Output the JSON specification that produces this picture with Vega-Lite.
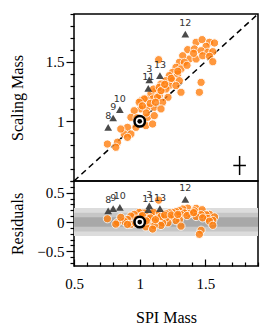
{
  "$schema": "https://vega.github.io/schema/vega-lite/v6.json",
  "padding": {"left": 8, "top": 10, "right": 15, "bottom": 5},
  "bounds": "flush",
  "config": {
    "view": {"stroke": "black", "strokeWidth": 1.5},
    "concat": {"spacing": 0},
    "axis": {
      "labelFont": "Liberation Serif", "titleFont": "Liberation Serif",
      "labelFontSize": 15, "titleFontSize": 16, "titleFontWeight": "normal",
      "labelColor": "black", "titleColor": "black", "tickColor": "black",
      "domain": false, "grid": false, "tickWidth": 1.2, "labelFlush": false
    }
  },
  "datasets": {
    "stars": [
      {"spi": 1.144, "scal": 1.517, "res": 0.373},
      {"spi": 1.429, "scal": 1.663, "res": 0.234},
      {"spi": 1.475, "scal": 1.685, "res": 0.21},
      {"spi": 1.531, "scal": 1.663, "res": 0.132},
      {"spi": 1.569, "scal": 1.657, "res": 0.088},
      {"spi": 1.505, "scal": 1.629, "res": 0.124},
      {"spi": 1.365, "scal": 1.601, "res": 0.236},
      {"spi": 1.416, "scal": 1.607, "res": 0.191},
      {"spi": 1.467, "scal": 1.592, "res": 0.125},
      {"spi": 1.518, "scal": 1.579, "res": 0.061},
      {"spi": 1.556, "scal": 1.584, "res": 0.028},
      {"spi": 1.378, "scal": 1.523, "res": 0.145},
      {"spi": 1.429, "scal": 1.523, "res": 0.094},
      {"spi": 1.479, "scal": 1.55, "res": 0.071},
      {"spi": 1.531, "scal": 1.545, "res": 0.014},
      {"spi": 1.556, "scal": 1.5, "res": -0.056},
      {"spi": 1.327, "scal": 1.55, "res": 0.223},
      {"spi": 1.302, "scal": 1.495, "res": 0.193},
      {"spi": 1.34, "scal": 1.495, "res": 0.155},
      {"spi": 1.276, "scal": 1.453, "res": 0.177},
      {"spi": 1.314, "scal": 1.439, "res": 0.125},
      {"spi": 1.25, "scal": 1.411, "res": 0.161},
      {"spi": 1.289, "scal": 1.397, "res": 0.108},
      {"spi": 1.225, "scal": 1.383, "res": 0.158},
      {"spi": 1.2, "scal": 1.341, "res": 0.141},
      {"spi": 1.25, "scal": 1.341, "res": 0.091},
      {"spi": 1.302, "scal": 1.341, "res": 0.039},
      {"spi": 1.225, "scal": 1.299, "res": 0.074},
      {"spi": 1.276, "scal": 1.299, "res": 0.023},
      {"spi": 1.314, "scal": 1.244, "res": -0.07},
      {"spi": 1.162, "scal": 1.313, "res": 0.151},
      {"spi": 1.174, "scal": 1.271, "res": 0.097},
      {"spi": 1.124, "scal": 1.257, "res": 0.133},
      {"spi": 1.149, "scal": 1.215, "res": 0.066},
      {"spi": 1.085, "scal": 1.229, "res": 0.144},
      {"spi": 1.098, "scal": 1.188, "res": 0.09},
      {"spi": 1.047, "scal": 1.188, "res": 0.141},
      {"spi": 1.009, "scal": 1.173, "res": 0.164},
      {"spi": 1.467, "scal": 1.327, "res": -0.14},
      {"spi": 1.454, "scal": 1.244, "res": -0.21},
      {"spi": 1.215, "scal": 1.202, "res": -0.013},
      {"spi": 1.105, "scal": 1.271, "res": 0.166},
      {"spi": 1.149, "scal": 1.286, "res": 0.137},
      {"spi": 1.2, "scal": 1.271, "res": 0.071},
      {"spi": 1.034, "scal": 1.188, "res": 0.154},
      {"spi": 1.136, "scal": 1.202, "res": 0.066},
      {"spi": 1.174, "scal": 1.16, "res": -0.014},
      {"spi": 0.996, "scal": 1.16, "res": 0.164},
      {"spi": 1.009, "scal": 1.104, "res": 0.095},
      {"spi": 1.06, "scal": 1.118, "res": 0.058},
      {"spi": 1.111, "scal": 1.118, "res": 0.007},
      {"spi": 1.162, "scal": 1.104, "res": -0.058},
      {"spi": 0.958, "scal": 1.089, "res": 0.131},
      {"spi": 0.933, "scal": 1.034, "res": 0.101},
      {"spi": 1.06, "scal": 1.034, "res": -0.026},
      {"spi": 1.111, "scal": 1.048, "res": -0.063},
      {"spi": 1.047, "scal": 0.964, "res": -0.083},
      {"spi": 1.098, "scal": 0.978, "res": -0.12},
      {"spi": 0.907, "scal": 0.95, "res": 0.043},
      {"spi": 0.882, "scal": 0.894, "res": 0.012},
      {"spi": 0.933, "scal": 0.894, "res": -0.039},
      {"spi": 0.971, "scal": 0.95, "res": -0.021},
      {"spi": 0.907, "scal": 0.866, "res": -0.041},
      {"spi": 0.831, "scal": 0.825, "res": -0.006},
      {"spi": 0.754, "scal": 0.81, "res": 0.056},
      {"spi": 0.818, "scal": 0.783, "res": -0.035},
      {"spi": 1.162, "scal": 1.257, "res": 0.095},
      {"spi": 0.856, "scal": 0.936, "res": 0.08},
      {"spi": 1.19, "scal": 1.31, "res": 0.12},
      {"spi": 1.24, "scal": 1.36, "res": 0.12},
      {"spi": 1.29, "scal": 1.42, "res": 0.13},
      {"spi": 1.36, "scal": 1.47, "res": 0.11},
      {"spi": 1.41, "scal": 1.57, "res": 0.16},
      {"spi": 1.02, "scal": 1.13, "res": 0.11},
      {"spi": 1.08, "scal": 1.15, "res": 0.07},
      {"spi": 0.98, "scal": 1.03, "res": 0.05},
      {"spi": 1.12, "scal": 1.16, "res": 0.04},
      {"spi": 1.05, "scal": 1.07, "res": 0.02}
    ],
    "outliers": [
      {"id": "8", "spi": 0.76, "scal": 0.95, "res": 0.19},
      {"id": "9", "spi": 0.798, "scal": 1.028, "res": 0.23},
      {"id": "10", "spi": 0.849, "scal": 1.098, "res": 0.249},
      {"id": "11", "spi": 1.065, "scal": 1.277, "res": 0.212},
      {"id": "3", "spi": 1.073, "scal": 1.347, "res": 0.274},
      {"id": "13", "spi": 1.154, "scal": 1.383, "res": 0.229},
      {"id": "12", "spi": 1.347, "scal": 1.732, "res": 0.385}
    ],
    "sun": [{"spi": 1.0, "scal": 1.0, "res": 0}],
    "diag": [{"spi": 0.5, "scal": 0.5}, {"spi": 1.9, "scal": 1.9}],
    "err": [
      {"spi": 1.712, "spi2": 1.808, "scal": 0.63, "scal2": 0.63},
      {"spi": 1.76, "spi2": 1.76, "scal": 0.55, "scal2": 0.71}
    ],
    "bands": [
      {"spi": 0.5, "spi2": 1.9, "res": -0.24, "res2": 0.24, "band": "3"},
      {"spi": 0.5, "spi2": 1.9, "res": -0.16, "res2": 0.16, "band": "2"},
      {"spi": 0.5, "spi2": 1.9, "res": -0.08, "res2": 0.08, "band": "1"}
    ]
  },
  "vconcat": [
    {
      "width": 184,
      "height": 167,
      "encoding": {
        "x": {"field": "spi", "type": "quantitative", "scale": {"domain": [0.5, 1.9], "nice": false, "zero": false}, "axis": null},
        "y": {
          "field": "scal", "type": "quantitative",
          "scale": {"domain": [0.5, 1.9], "nice": false, "zero": false},
          "axis": {
            "title": "Scaling Mass",
            "values": [0.5, 0.6, 0.7, 0.8, 0.9, 1, 1.1, 1.2, 1.3, 1.4, 1.5, 1.6, 1.7, 1.8, 1.9],
            "format": "~g",
            "labelExpr": "datum.value == 1 || datum.value == 1.5 ? datum.label : ''",
            "tickSize": {"condition": {"test": "datum.value == 1 || datum.value == 1.5", "value": 8}, "value": 4},
            "labelPadding": 2,
            "titleX": -57,
            "titleBaseline": "middle"
          }
        }
      },
      "layer": [
        {"data": {"name": "diag"}, "mark": {"type": "line", "color": "black", "strokeWidth": 1.5, "strokeDash": [6, 4]}},
        {"data": {"name": "stars"}, "mark": {"type": "circle", "size": 68, "color": "#ff7f0e", "opacity": 0.8, "stroke": "white", "strokeWidth": 1}},
        {"data": {"name": "outliers"}, "mark": {"type": "point", "shape": "triangle-up", "filled": true, "size": 60, "color": "#404040", "opacity": 0.95}},
        {"data": {"name": "outliers"}, "mark": {"type": "text", "dy": -11, "font": "DejaVu Sans", "fontSize": 9.5, "color": "#333333"}, "encoding": {"text": {"field": "id"}}},
        {"data": {"name": "sun"}, "mark": {"type": "circle", "size": 110, "fill": "white", "stroke": "black", "strokeWidth": 2.5, "opacity": 1}},
        {"data": {"name": "sun"}, "mark": {"type": "circle", "size": 22, "color": "black", "opacity": 1}},
        {"data": {"name": "err"}, "mark": {"type": "rule", "color": "black", "strokeWidth": 1.5}, "encoding": {"x2": {"field": "spi2"}, "y2": {"field": "scal2"}}}
      ]
    },
    {
      "width": 184,
      "height": 85,
      "encoding": {
        "x": {
          "field": "spi", "type": "quantitative",
          "scale": {"domain": [0.5, 1.9], "nice": false, "zero": false},
          "axis": {
            "title": "SPI Mass",
            "values": [0.5, 0.6, 0.7, 0.8, 0.9, 1, 1.1, 1.2, 1.3, 1.4, 1.5, 1.6, 1.7, 1.8, 1.9],
            "format": "~g",
            "labelExpr": "datum.value == 0.5 || datum.value == 1 || datum.value == 1.5 ? datum.label : ''",
            "tickSize": {"condition": {"test": "datum.value == 0.5 || datum.value == 1 || datum.value == 1.5", "value": -7}, "value": -4},
            "labelPadding": 17,
            "titlePadding": 18
          }
        },
        "y": {
          "field": "res", "type": "quantitative",
          "scale": {"domain": [-0.75, 0.7], "nice": false, "zero": false},
          "axis": {
            "title": "Residuals",
            "values": [-0.7, -0.6, -0.5, -0.4, -0.3, -0.2, -0.1, 0, 0.1, 0.2, 0.3, 0.4, 0.5, 0.6, 0.7],
            "format": "~g",
            "labelExpr": "datum.value == -0.5 || datum.value == 0 || datum.value == 0.5 ? datum.label : ''",
            "tickSize": {"condition": {"test": "datum.value == -0.5 || datum.value == 0 || datum.value == 0.5", "value": 8}, "value": 4},
            "labelPadding": 2,
            "titleX": -57,
            "titleBaseline": "middle"
          }
        }
      },
      "layer": [
        {"data": {"name": "bands"}, "mark": {"type": "rect"}, "encoding": {"x2": {"field": "spi2"}, "y2": {"field": "res2"}, "color": {"field": "band", "type": "nominal", "scale": {"domain": ["3", "2", "1"], "range": ["#dcdcdc", "#c6c6c6", "#a8a8a8"]}, "legend": null}}},
        {"data": {"name": "diag"}, "mark": {"type": "rule", "color": "black", "strokeWidth": 1.5, "strokeDash": [6, 4]}, "encoding": {"x": null, "y": {"datum": 0}}},
        {"data": {"name": "stars"}, "mark": {"type": "circle", "size": 68, "color": "#ff7f0e", "opacity": 0.8, "stroke": "white", "strokeWidth": 1}},
        {"data": {"name": "outliers"}, "mark": {"type": "point", "shape": "triangle-up", "filled": true, "size": 60, "color": "#404040", "opacity": 0.95}},
        {"data": {"name": "outliers"}, "mark": {"type": "text", "dy": -11, "font": "DejaVu Sans", "fontSize": 9.5, "color": "#333333"}, "encoding": {"text": {"field": "id"}}},
        {"data": {"name": "sun"}, "mark": {"type": "circle", "size": 110, "fill": "white", "stroke": "black", "strokeWidth": 2.5, "opacity": 1}},
        {"data": {"name": "sun"}, "mark": {"type": "circle", "size": 22, "color": "black", "opacity": 1}}
      ]
    }
  ]
}
